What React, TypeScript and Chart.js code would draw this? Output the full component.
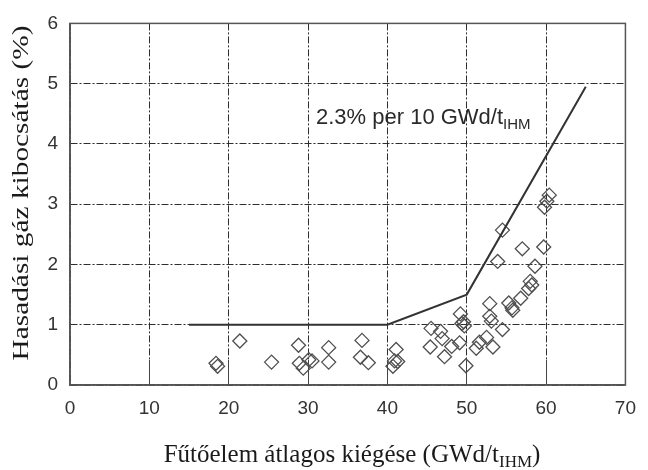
import { useEffect, useRef } from "react";
import { Chart, registerables } from "chart.js";

Chart.register(...registerables);

// Measured fission gas release points (burnup GWd/tIHM, release %)
const burnup = [
  18.4, 18.6, 21.4, 25.4, 28.8, 28.9, 29.4, 30.1, 30.5, 32.6, 32.6, 36.8, 36.6, 37.6,
  41.1, 40.9, 40.7, 41.3, 45.5, 46.7, 46.9, 45.4, 47.2, 48.1, 49.1, 49.2, 49.4, 49.7,
  49.6, 49.9, 51.2, 51.6, 52.5, 53.3, 54.5, 52.9, 53.1, 52.9, 55.3, 55.7, 55.8, 56.8,
  57.8, 58.2, 58.0, 58.6, 53.9, 57.0, 59.7, 54.5, 59.8, 60.1, 60.4,
];
const release = [
  0.36, 0.31, 0.73, 0.38, 0.66, 0.36, 0.28, 0.42, 0.4, 0.62, 0.38, 0.74, 0.46, 0.37,
  0.59, 0.4, 0.31, 0.39, 0.94, 0.89, 0.77, 0.63, 0.47, 0.64, 0.7, 1.18, 1.02, 0.98,
  1.05, 0.32, 0.61, 0.71, 0.79, 0.63, 0.92, 1.14, 1.06, 1.35, 1.36, 1.28, 1.24, 1.44,
  1.6, 1.66, 1.72, 1.97, 2.05, 2.26, 2.29, 2.57, 2.95, 3.05, 3.15,
];

// Model line
const modelBurnup = [15, 40, 50, 65];
const modelRelease = [1, 1, 1.5, 4.95];

// Axes
const xMin = 0;
const xMax = 70;
const xStep = 10;
const yMin = 0;
const yMax = 6;
const yStep = 1;

// Texts
const xTitleMain = "Fűtőelem átlagos kiégése (GWd/t";
const xTitleSub = "IHM";
const xTitleEnd = ")";
const yTitleText = "Hasadási gáz kibocsátás (%)";
const noteMain = "2.3% per 10 GWd/t";
const noteSub = "IHM";
const noteAt = { x: 31, y: 4.33 };

const GRID = "#2e2e2e";
const FRAME = "#555555";

const decorPlugin = {
  id: "decor",
  beforeDatasetsDraw(chart: any) {
    const { ctx, chartArea, scales } = chart;
    ctx.save();
    // inward solid tick marks on bottom axis
    ctx.strokeStyle = "#444";
    ctx.lineWidth = 1;
    for (let v = xMin + xStep; v < xMax; v += xStep) {
      const px = Math.round(scales.x.getPixelForValue(v) - 0.5) + 0.5;
      ctx.beginPath();
      ctx.moveTo(px, chartArea.bottom);
      ctx.lineTo(px, chartArea.bottom - 25);
      ctx.stroke();
    }
    // frame
    ctx.strokeStyle = FRAME;
    ctx.lineWidth = 1.5;
    ctx.strokeRect(
      chartArea.left,
      chartArea.top,
      chartArea.right - chartArea.left,
      chartArea.bottom - chartArea.top
    );
    ctx.restore();
  },
  afterDraw(chart: any) {
    const { ctx, scales } = chart;
    ctx.save();
    ctx.textBaseline = "alphabetic";
    ctx.textAlign = "left";

    // annotation
    const nx = scales.x.getPixelForValue(noteAt.x);
    const ny = scales.y.getPixelForValue(noteAt.y);
    ctx.font = '22px "Liberation Sans", Arial, sans-serif';
    ctx.fillStyle = "#2a2a2a";
    ctx.fillText(noteMain, nx, ny);
    const nw = ctx.measureText(noteMain).width;
    ctx.font = '15px "Liberation Sans", Arial, sans-serif';
    ctx.fillText(noteSub, nx + nw, ny + 5);

    // x title
    ctx.fillStyle = "#1a1a1a";
    const mainFont = '25px "Liberation Serif", "Times New Roman", serif';
    const subFont = '17px "Liberation Serif", "Times New Roman", serif';
    ctx.font = mainFont;
    const w1 = ctx.measureText(xTitleMain).width;
    const w3 = ctx.measureText(xTitleEnd).width;
    ctx.font = subFont;
    const w2 = ctx.measureText(xTitleSub).width;
    const total = w1 + w2 + w3;
    const cx = 352;
    const by = 462;
    let sx = cx - total / 2;
    ctx.font = mainFont;
    ctx.fillText(xTitleMain, sx, by);
    sx += w1;
    ctx.font = subFont;
    ctx.fillText(xTitleSub, sx, by + 5);
    sx += w2;
    ctx.font = mainFont;
    ctx.fillText(xTitleEnd, sx, by);

    // y title
    ctx.font = '24px "Liberation Serif", "Times New Roman", serif';
    const yw = ctx.measureText(yTitleText).width;
    const stretch = 335 / yw;
    ctx.translate(28, 193);
    ctx.rotate(-Math.PI / 2);
    ctx.scale(stretch, 1);
    ctx.textAlign = "center";
    ctx.fillText(yTitleText, 0, 0);
    ctx.restore();
  },
};

export default function App() {
  const ref = useRef<HTMLCanvasElement | null>(null);

  useEffect(() => {
    if (!ref.current) return;
    const points = burnup.map((x, i) => ({ x, y: release[i] }));
    const model = modelBurnup.map((x, i) => ({ x, y: modelRelease[i] }));
    const tickFont = { family: '"Liberation Sans", Arial, sans-serif', size: 19 };

    const chart = new Chart(ref.current, {
      type: "scatter",
      data: {
        datasets: [
          {
            label: "model",
            data: model,
            showLine: true,
            borderColor: "#333",
            borderWidth: 2,
            pointRadius: 0,
            pointHoverRadius: 0,
            fill: false,
            tension: 0,
          },
          {
            label: "measured",
            data: points,
            pointStyle: "rectRot",
            pointRadius: 7,
            pointHoverRadius: 7,
            pointBorderWidth: 1.3,
            borderColor: "#505050",
            backgroundColor: "rgba(0,0,0,0)",
            showLine: false,
          },
        ],
      },
      options: {
        animation: false,
        responsive: false,
        events: [],
        layout: { padding: { left: 0, right: 13, top: 15, bottom: 0 } },
        plugins: {
          legend: { display: false },
          tooltip: { enabled: false },
          title: { display: false },
        },
        scales: {
          x: {
            type: "linear",
            min: xMin,
            max: xMax,
            ticks: { stepSize: xStep, color: "#333", font: tickFont, padding: 12 },
            grid: { color: GRID, lineWidth: 1, drawTicks: false },
            border: { display: true, color: FRAME, width: 1.5, dash: [7, 2, 2, 2] },
            afterFit: (s: any) => {
              s.height = 85;
            },
          },
          y: {
            type: "linear",
            min: yMin,
            max: yMax,
            ticks: { stepSize: yStep, color: "#333", font: tickFont, padding: 12 },
            grid: { color: GRID, lineWidth: 1, drawTicks: false },
            border: { display: true, color: FRAME, width: 1.5, dash: [7, 2, 2, 2] },
            afterFit: (s: any) => {
              s.width = 70;
            },
          },
        },
      },
      plugins: [decorPlugin],
    });
    return () => chart.destroy();
  }, []);

  return (
    <div style={{ position: "fixed", left: 0, top: 0, width: 648, height: 470, background: "#fff" }}>
      <canvas ref={ref} width={648} height={470} style={{ display: "block" }} />
    </div>
  );
}
